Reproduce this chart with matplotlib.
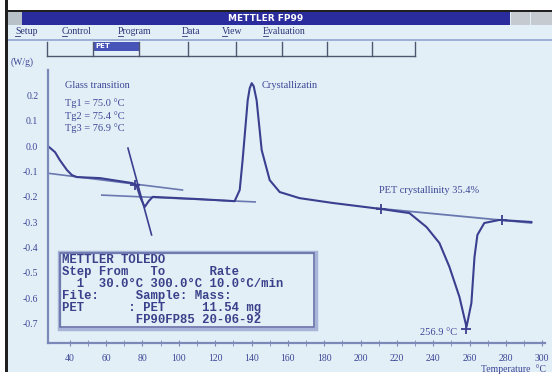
import numpy as np
import matplotlib
matplotlib.use("Agg")
from matplotlib import pyplot as plt
from matplotlib.patches import Rectangle

# DSC curve of PET (temperature in C, heat flow in W/g)
temp = [28.0, 31.9, 34.5, 38.4, 41.1, 43.8, 56.5, 74.6, 76.8, 79.0, 81.2, 83.4,
        85.6, 111.5, 130.7, 133.5, 135.1, 137.9, 139.0, 140.1, 141.2, 142.8,
        145.6, 150.0, 155.5, 166.4, 184.6, 211.5, 226.9, 236.3, 243.4, 248.9,
        254.4, 258.3, 261.0, 262.7, 264.3, 268.1, 276.4, 294.0]
heat = [0.0, -0.024, -0.055, -0.094, -0.114, -0.122, -0.126, -0.146, -0.157,
        -0.205, -0.24, -0.217, -0.2, -0.209, -0.217, -0.173, -0.055, 0.181,
        0.228, 0.248, 0.236, 0.181, -0.016, -0.134, -0.181, -0.205, -0.224,
        -0.248, -0.264, -0.319, -0.382, -0.476, -0.594, -0.713, -0.618,
        -0.437, -0.35, -0.303, -0.291, -0.299]

# evaluation lines (start/end points)
tg_upper = ([28.0, 102.0], [-0.107, -0.173])
tg_lower = ([57.6, 142.0], [-0.193, -0.22])
tg_tangent = ([72.0, 85.0], [-0.008, -0.35])
melt_base = ([209.0, 294.0], [-0.245, -0.303])
marks_t = [75.7, 211.5, 278.0, 258.3]
marks_y = [-0.154, -0.248, -0.292, -0.72]

y_ticks = [-0.7, -0.6, -0.5, -0.4, -0.3, -0.2, -0.1, 0.0, 0.1, 0.2]
y_labels = ["-0.7", "-0.6", "-0.5", "-0.4", "-0.3", "-0.2", "-0.1", "0.0", "0.1", "0.2"]
tg_text = ["Tg1 = 75.0 \u00b0C", "Tg2 = 75.4 \u00b0C", "Tg3 = 76.9 \u00b0C"]
menu_items = ["Setup", "Control", "Program", "Data", "View", "Evaluation"]
menu_x = [15, 62, 118, 182, 222, 263]
tab_edges = [47, 93, 139, 188, 236, 282, 327, 372, 415]
info_lines = ["METTLER TOLEDO",
              "Step From   To      Rate",
              "  1  30.0\u00b0C 300.0\u00b0C 10.0\u00b0C/min",
              "File:     Sample: Mass:",
              "PET      : PET     11.54 mg",
              "          FP90FP85 20-06-92"]

bgcol = "#e2eff7"
txtcol = "#3d4796"
curvecol = "#3b3f8f"
linecol = "#6a78b0"
serif = "Liberation Serif"

fig = plt.figure(figsize=(5.52, 3.75), dpi=100)
fig.patch.set_facecolor("white")

# window chrome in pixel coordinates
bg = fig.add_axes([0, 0, 1, 1])
bg.set_xlim(0, 552)
bg.set_ylim(375, 0)
bg.axis("off")
bg.add_patch(Rectangle((5, 10), 547, 362, color=bgcol, lw=0))
bg.add_patch(Rectangle((5, 0), 2.5, 372, color="#202020", lw=0))
bg.add_patch(Rectangle((5, 10), 547, 2, color="#202020", lw=0))
bg.add_patch(Rectangle((7.5, 12), 15, 13, color="#b8c0c8", lw=0))
bg.add_patch(Rectangle((22, 12), 488, 13, color="#2a2b9c", lw=0))
bg.add_patch(Rectangle((511, 12), 19, 13, color="#c4cad0", lw=0))
bg.add_patch(Rectangle((531, 12), 21, 13, color="#c4cad0", lw=0))
bg.text(266, 18.5, "METTLER FP99", color="white", fontsize=6.5, fontweight="bold",
        ha="center", va="center", family="DejaVu Sans")
for name, x in zip(menu_items, menu_x):
    bg.text(x, 31.5, name, color="#2e3478", fontsize=7, family=serif, ha="left", va="center")
    bg.plot([x, x + 5], [36, 36], color="#2e3478", lw=0.6)
bg.add_patch(Rectangle((7.5, 38.5), 545, 2, color="#9fb0d6", lw=0))
bg.add_patch(Rectangle((93, 42), 46, 9, color="#4855b8", lw=0))
bg.text(95, 46, "PET", color="white", fontsize=5, fontweight="bold", va="center")
bg.plot([tab_edges[0], tab_edges[-1]], [56, 56], color="#50566e", lw=1)
for x in tab_edges:
    bg.plot([x, x], [42, 56], color="#50566e", lw=1)

# info box
bg.add_patch(Rectangle((58.5, 251.5), 257, 77, fill=False, ec="#a8b4d8", lw=2.5))
bg.add_patch(Rectangle((60, 253), 254, 74, fill=False, ec="#6870a8", lw=1.2))
for i, line in enumerate(info_lines):
    bg.text(62, 260 + 12 * i, line, family="Liberation Mono", fontweight="bold",
            fontsize=8.8, color="#3a418a", va="center", ha="left")

bg.text(22, 62, "(W/g)", color=txtcol, fontsize=7, family=serif, ha="center", va="center")
bg.text(546, 364, "Temperature  \u00b0C", color=txtcol, fontsize=7, family=serif,
        ha="right", va="top")

# the measurement plot
ax = fig.add_axes([48 / 552, 32 / 375, 497 / 552, 273 / 375])
ax.patch.set_alpha(0)
ax.set_xlim(28, 301.5)
ax.set_ylim(-0.776, 0.30)
for s in ["top", "right"]:
    ax.spines[s].set_visible(False)
for s in ["left", "bottom"]:
    ax.spines[s].set_color("#7c88b8")
    ax.spines[s].set_linewidth(1.6)

ax.set_xticks(np.arange(40, 301, 20))
ax.set_xticks(np.arange(50, 300, 20), minor=True)
ax.set_yticks(y_ticks)
ax.set_yticklabels(y_labels)
ax.tick_params(axis="x", which="both", direction="inout", length=4, color="#7c88b8",
               labelsize=7, labelcolor=txtcol, pad=6)
ax.tick_params(axis="y", length=0, labelsize=7, labelcolor=txtcol, pad=7)
for lab in ax.get_xticklabels() + ax.get_yticklabels():
    lab.set_family(serif)

ax.plot(*tg_upper, color=linecol, lw=1.2)
ax.plot(*tg_lower, color=linecol, lw=1.2)
ax.plot(*tg_tangent, color=curvecol, lw=1.2)
ax.plot(*melt_base, color=linecol, lw=1.3)
ax.plot(temp, heat, color=curvecol, lw=1.5)
ax.plot(marks_t, marks_y, ls="none", marker="+", ms=7, mew=1.3, color=curvecol)

ax.text(37.3, 0.24, "Glass transition", color=txtcol, fontsize=7.5, family=serif, va="center")
for i, t in enumerate(tg_text):
    ax.text(37.3, 0.169 - 0.049 * i, t, color=txtcol, fontsize=7.5, family=serif, va="center")
ax.text(145.5, 0.24, "Crystallizatin", color=txtcol, fontsize=7.5, family=serif, va="center")
ax.text(210.4, -0.173, "PET crystallinity 35.4%", color=txtcol, fontsize=7.5,
        family=serif, va="center")
ax.text(253, -0.736, "256.9 \u00b0C", color=txtcol, fontsize=7.5, family=serif,
        ha="right", va="center")

fig.savefig("out.png", dpi=100)
